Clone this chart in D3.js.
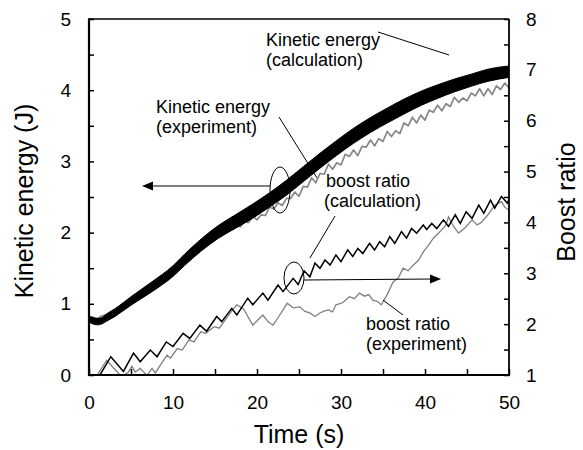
<!DOCTYPE html>
<html>
<head>
<meta charset="utf-8">
<script src="https://cdnjs.cloudflare.com/ajax/libs/d3/7.8.5/d3.min.js"></script>
<style>
  body { margin: 0; background: #fff; }
  text { font-family: "Liberation Sans", Arial, sans-serif; fill: #000; }
</style>
</head>
<body>
<div id="chart"></div>
<script>
// Kinetic energy, calculation: centre of the thick band and its vertical thickness (J).
var keCalcT = [0.1, 1, 1.5, 2, 3, 3.5, 5, 7.5, 10, 11.4, 13.4, 15.4, 17.5, 19.6, 21.5, 23.5, 25.5,
               27.5, 29.5, 31.5, 33.5, 35.6, 37.5, 39.6, 41.5, 43.6, 45.5, 47.5, 50];
var keCalcV = [0.78, 0.75, 0.76, 0.80, 0.87, 0.91, 1.04, 1.24, 1.46, 1.62, 1.83, 2.01, 2.16, 2.31, 2.46, 2.63, 2.82,
               3.01, 3.19, 3.36, 3.51, 3.65, 3.77, 3.89, 3.98, 4.07, 4.14, 4.21, 4.26];
var keCalcW = [0.09, 0.09, 0.09, 0.10, 0.11, 0.11, 0.12, 0.14, 0.15, 0.16, 0.17, 0.18, 0.19, 0.20, 0.20, 0.21, 0.21,
               0.21, 0.21, 0.21, 0.21, 0.21, 0.21, 0.20, 0.19, 0.18, 0.17, 0.17, 0.16];

// Kinetic energy, experiment: one sample every 0.5 s from t = 0.
var keExpStep = 0.5;
var keExpV = [0.80, 0.81, 0.79, 0.83, 0.84, 0.88, 0.89, 0.94, 0.95, 1.01, 1.03, 1.09, 1.11, 1.17,
              1.19, 1.25, 1.27, 1.33, 1.36, 1.42, 1.45, 1.51, 1.54, 1.61, 1.64, 1.71, 1.74, 1.81,
              1.83, 1.93, 1.91, 1.99, 1.97, 2.08, 2.06, 2.13, 2.08, 2.16, 2.14, 2.23, 2.18, 2.25,
              2.24, 2.36, 2.33, 2.42, 2.38, 2.48, 2.48, 2.57,
              2.51, 2.65, 2.64, 2.77, 2.70, 2.83, 2.82, 2.96, 2.89, 2.98, 2.95, 3.10, 3.07, 3.16,
              3.08, 3.21, 3.20, 3.30, 3.22, 3.32, 3.28, 3.42, 3.35, 3.43, 3.39, 3.54, 3.50, 3.62,
              3.54, 3.65, 3.58, 3.72, 3.69, 3.79, 3.71, 3.81, 3.77, 3.90, 3.83, 3.89, 3.85, 3.96,
              3.92, 4.02, 3.92, 4.02, 3.94, 4.06, 4.01, 4.10, 4.03];

// Boost ratio, calculation (zigzag vertices: [time, ratio]).
var boostCalc = [[1.3, 1.0], [2.6, 1.36], [4.1, 1.07], [5.3, 1.43], [6.1, 1.26], [7.3, 1.49], [8.1, 1.36],
  [9.2, 1.65], [10.0, 1.56], [11.2, 1.82], [12.0, 1.72], [13.2, 1.98], [14.0, 1.86], [15.2, 2.15],
  [15.8, 2.05], [17.0, 2.31], [17.6, 2.18], [18.9, 2.51], [19.5, 2.38], [20.7, 2.61], [21.3, 2.47],
  [22.5, 2.77], [23.1, 2.64], [24.3, 2.90], [24.9, 2.78], [25.6, 3.05], [26.3, 2.93], [26.9, 3.20],
  [27.5, 3.10], [28.1, 3.26], [28.7, 3.16], [29.4, 3.36], [30.0, 3.23], [30.8, 3.46], [31.4, 3.33],
  [32.0, 3.49], [32.6, 3.39], [33.4, 3.59], [34.0, 3.46], [34.6, 3.62], [35.2, 3.52], [35.8, 3.72],
  [36.4, 3.59], [37.2, 3.82], [37.8, 3.69], [38.4, 3.88], [39.0, 3.79], [39.8, 3.95], [40.2, 3.86],
  [40.8, 3.98], [41.4, 3.88], [42.2, 4.05], [42.8, 3.92], [43.6, 4.15], [44.2, 3.98], [44.9, 4.21],
  [45.6, 4.08], [46.4, 4.34], [47.0, 4.18], [47.8, 4.44], [48.3, 4.28], [49.1, 4.51], [49.8, 4.38],
  [50, 4.45]];

// Boost ratio, experiment.
var boostExp = [[0.9, 0.98], [2.1, 1.29], [3.3, 1.07], [3.9, 0.97], [4.7, 1.06], [5.1, 1.17], [5.5, 1.06],
  [6.1, 1.13], [6.9, 0.99], [7.5, 1.13], [7.9, 1.04], [8.5, 1.20], [9.3, 1.39], [9.7, 1.33], [10.5, 1.52],
  [11.1, 1.49], [11.9, 1.69], [12.5, 1.65], [13.3, 1.85], [13.9, 1.82], [14.9, 1.95], [15.5, 1.92],
  [16.5, 2.15], [17.1, 2.28], [17.6, 2.38], [18.4, 2.30], [19.5, 1.98], [20.1, 2.08], [20.7, 2.18],
  [21.3, 2.05], [21.9, 1.98], [22.6, 2.15], [23.6, 2.41], [24.3, 2.32], [25.1, 2.34], [25.7, 2.25],
  [26.3, 2.22], [26.9, 2.15], [27.5, 2.22], [27.9, 2.25], [28.5, 2.28], [29.0, 2.24], [29.4, 2.38],
  [30.2, 2.42], [31.0, 2.54], [31.6, 2.50], [32.2, 2.61], [32.8, 2.55], [33.3, 2.58], [33.8, 2.47],
  [34.3, 2.45], [34.8, 2.38], [35.5, 2.58], [36.2, 2.83], [36.8, 2.90], [37.4, 3.10], [38.0, 3.05],
  [38.6, 3.16], [39.2, 3.25], [39.8, 3.42], [40.4, 3.55], [41.0, 3.69], [41.8, 3.82], [42.5, 3.95],
  [42.8, 4.11], [43.4, 3.92], [44.0, 3.79], [44.8, 3.90], [45.6, 4.05], [46.2, 3.95], [46.7, 4.00],
  [47.5, 4.15], [48.3, 4.34], [49.1, 4.41], [49.5, 4.30], [50, 4.24]];

var xTicks = [0, 10, 20, 30, 40, 50];
var yLeftTicks = [0, 1, 2, 3, 4, 5];
var yRightTicks = [1, 2, 3, 4, 5, 6, 7, 8];


var width = 583, height = 450;
var plotL = 89, plotR = 509, plotT = 19, plotB = 375;

var x = d3.scaleLinear().domain([0, 50]).range([plotL, plotR]);
var yL = d3.scaleLinear().domain([0, 5]).range([plotB, plotT]);
var yR = d3.scaleLinear().domain([1, 8]).range([plotB, plotT]);

var svg = d3.select('#chart').append('svg')
    .attr('width', width)
    .attr('height', height);

svg.append('rect').attr('width', width).attr('height', height).attr('fill', '#fff');

svg.append('defs').append('clipPath').attr('id', 'plot')
  .append('rect')
    .attr('x', plotL).attr('y', plotT)
    .attr('width', plotR - plotL).attr('height', plotB - plotT);

var plot = svg.append('g').attr('clip-path', 'url(#plot)');

// Curves.
var keExp = keExpV.map(function(v, i) { return [i * keExpStep, v]; });
plot.append('path')
    .datum(keExp)
    .attr('fill', 'none')
    .attr('stroke', '#868686')
    .attr('stroke-width', 1.7)
    .attr('stroke-linejoin', 'round')
    .attr('d', d3.line().x(function(d) { return x(d[0]); }).y(function(d) { return yL(d[1]); }));

var band = d3.area()
    .curve(d3.curveMonotoneX)
    .x(function(d, i) { return x(keCalcT[i]); })
    .y0(function(d, i) { return yL(keCalcV[i] - keCalcW[i] / 2); })
    .y1(function(d, i) { return yL(keCalcV[i] + keCalcW[i] / 2); });
plot.append('path')
    .datum(keCalcT)
    .attr('fill', '#000')
    .attr('stroke', '#000')
    .attr('stroke-width', 1)
    .attr('d', band);

var lineR = d3.line().x(function(d) { return x(d[0]); }).y(function(d) { return yR(d[1]); });
plot.append('path')
    .datum(boostExp)
    .attr('fill', 'none')
    .attr('stroke', '#808080')
    .attr('stroke-width', 1.3)
    .attr('d', lineR);
plot.append('path')
    .datum(boostCalc)
    .attr('fill', 'none')
    .attr('stroke', '#000')
    .attr('stroke-width', 1.5)
    .attr('d', lineR);

// Axes: inward ticks every 0.5 (y) and every 5 (x), labels on the whole numbers only.
function label(list) {
  return function(d) { return list.indexOf(d) >= 0 ? d : ''; };
}

var axL = svg.append('g').attr('transform', 'translate(' + plotL + ',0)')
    .call(d3.axisLeft(yL).tickValues(d3.range(0, 5.01, 0.5)).tickSize(-5).tickPadding(18)
      .tickFormat(label(yLeftTicks)));
var axR = svg.append('g').attr('transform', 'translate(' + plotR + ',0)')
    .call(d3.axisRight(yR).tickValues(d3.range(1, 8.01, 0.5)).tickSize(-5).tickPadding(17)
      .tickFormat(label(yRightTicks)));
var axB = svg.append('g').attr('transform', 'translate(0,' + plotB + ')')
    .call(d3.axisBottom(x).tickValues(d3.range(0, 50.01, 5)).tickSize(-6).tickPadding(21)
      .tickFormat(label(xTicks)));

[axL, axR, axB].forEach(function(ax) {
  ax.select('.domain').remove();
  ax.selectAll('line').attr('stroke', '#000').attr('stroke-width', 1.5);
  ax.selectAll('text').attr('font-size', 19).attr('fill', '#000')
    .style('font-family', '"Liberation Sans", Arial, sans-serif');
});

// Frame.
svg.append('line').attr('x1', plotL).attr('x2', plotR).attr('y1', plotT).attr('y2', plotT)
    .attr('stroke', '#000').attr('stroke-width', 1.5);
svg.append('line').attr('x1', plotR).attr('x2', plotR).attr('y1', plotT).attr('y2', plotB)
    .attr('stroke', '#000').attr('stroke-width', 1.8);
svg.append('line').attr('x1', plotL).attr('x2', plotL).attr('y1', plotT - 0.75).attr('y2', plotB + 1)
    .attr('stroke', '#000').attr('stroke-width', 2.2);
svg.append('line').attr('x1', plotL).attr('x2', plotR + 1).attr('y1', plotB).attr('y2', plotB)
    .attr('stroke', '#000').attr('stroke-width', 2.2);

// Axis titles.
svg.append('text')
    .attr('transform', 'translate(33,201) rotate(-90)')
    .attr('text-anchor', 'middle')
    .attr('font-size', 25)
    .text('Kinetic energy (J)');
svg.append('text')
    .attr('transform', 'translate(575,202) rotate(-90)')
    .attr('text-anchor', 'middle')
    .attr('font-size', 25)
    .text('Boost ratio');
svg.append('text')
    .attr('x', 299).attr('y', 443)
    .attr('text-anchor', 'middle')
    .attr('font-size', 25)
    .text('Time (s)');

// Annotations.
var notes = [
  {x: 266, y: 46, lines: ['Kinetic energy', '(calculation)']},
  {x: 156, y: 113, lines: ['Kinetic energy', '(experiment)']},
  {x: 326, y: 187, lines: ['boost ratio', '(calculation)'], dx: [0, -2]},
  {x: 366, y: 330, lines: ['boost ratio', '(experiment)']}
];
notes.forEach(function(n) {
  n.lines.forEach(function(s, i) {
    svg.append('text')
        .attr('x', n.x + (n.dx ? n.dx[i] : 0))
        .attr('y', n.y + i * 20)
        .attr('font-size', 18)
        .text(s);
  });
});

var leaders = [
  [378, 32, 449, 55],
  [279, 117, 317, 178],
  [335, 216, 310, 258],
  [383, 300, 403, 315]
];
leaders.forEach(function(l) {
  svg.append('line')
      .attr('x1', l[0]).attr('y1', l[1]).attr('x2', l[2]).attr('y2', l[3])
      .attr('stroke', '#000').attr('stroke-width', 1);
});

svg.append('ellipse').attr('cx', 280).attr('cy', 190).attr('rx', 10).attr('ry', 23)
    .attr('fill', 'none').attr('stroke', '#000').attr('stroke-width', 1);
svg.append('ellipse').attr('cx', 294).attr('cy', 278).attr('rx', 10).attr('ry', 16)
    .attr('fill', 'none').attr('stroke', '#000').attr('stroke-width', 1);

// Arrows.
function arrow(x1, y1, x2, y2) {
  var dir = x2 > x1 ? 1 : -1;
  svg.append('line')
      .attr('x1', x1).attr('y1', y1).attr('x2', x2 - dir * 8).attr('y2', y2)
      .attr('stroke', '#000').attr('stroke-width', 1.2);
  svg.append('path')
      .attr('d', 'M' + x2 + ',' + y2 + 'L' + (x2 - dir * 11) + ',' + (y2 - 4.5) +
                 'L' + (x2 - dir * 11) + ',' + (y2 + 4.5) + 'Z')
      .attr('fill', '#000');
}
arrow(270, 186, 142, 186);
arrow(304, 280, 441, 279);
</script>
</body>
</html>
